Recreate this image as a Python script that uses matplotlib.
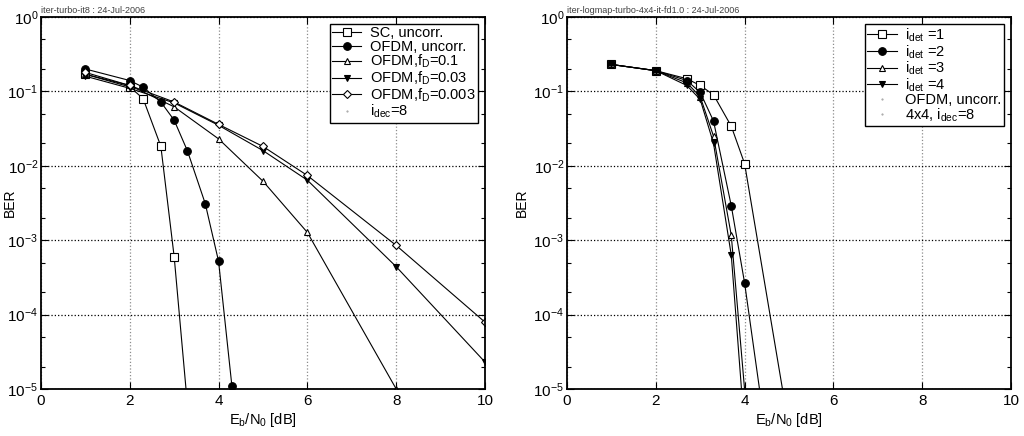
import numpy as np
import matplotlib.pyplot as plt

plt.rcParams['font.family'] = ['Liberation Sans', 'DejaVu Sans']
plt.rcParams['mathtext.default'] = 'regular'

# left panel: single antenna, i_dec = 8
sc_x = [1, 2, 2.3, 2.7, 3, 3.3]
sc_y = [0.17, 0.115, 0.08, 0.0183, 6.0e-4, 6.0e-6]
ofdm_x = [1, 2, 2.3, 2.7, 3, 3.3, 3.7, 4, 4.3]
ofdm_y = [0.20, 0.14, 0.114, 0.072, 0.041, 0.0158, 3.1e-3, 5.2e-4, 1.1e-5]
fd_x = [1, 2, 3, 4, 5, 6, 8, 10]
fd01_y = [0.17, 0.12, 0.062, 0.023, 6.2e-3, 1.27e-3, 1.0e-5, 1.0e-8]
fd003_y = [0.16, 0.11, 0.070, 0.035, 0.016, 6.4e-3, 4.4e-4, 2.3e-5]
fd0003_y = [0.18, 0.12, 0.072, 0.036, 0.0182, 7.4e-3, 8.5e-4, 7.9e-5]

# right panel: 4x4, iterations of detection
det_x = [1, 2, 2.7, 3, 3.3, 3.7, 4]
det1_y = [0.23, 0.19, 0.148, 0.12, 0.09, 0.034, 0.0107]
det1_tail = ([5.0], [3.0e-6])
det2_y = [0.23, 0.19, 0.14, 0.097, 0.040, 2.9e-3, 2.66e-4]
det2_tail = ([4.5], [2.0e-6])
det3_y = [0.23, 0.19, 0.13, 0.085, 0.025, 1.16e-3]
det3_tail = ([4.1], [2.0e-6])
det4_y = [0.23, 0.19, 0.12, 0.078, 0.020, 6.3e-4]
det4_tail = ([4.0], [2.8e-6])

fig = plt.figure(figsize=(10.24, 4.36), dpi=100)
ax1 = fig.add_axes([0.040, 0.108, 0.4336, 0.853])
ax2 = fig.add_axes([0.5537, 0.108, 0.4336, 0.853])

lk = dict(color='black', lw=0.8, clip_on=True)
open_ = dict(mfc='white', mec='black', mew=0.8)
fill_ = dict(mfc='black', mec='black', mew=0.8)

ax1.plot(sc_x, sc_y, marker='s', ms=5.5, label='SC, uncorr.', **open_, **lk)
ax1.plot(ofdm_x, ofdm_y, marker='o', ms=5.5, label='OFDM, uncorr.', **fill_, **lk)
ax1.plot(fd_x, fd01_y, marker='^', ms=5, label='OFDM,$f_D$=0.1', **open_, **lk)
ax1.plot(fd_x, fd003_y, marker='v', ms=5, label='OFDM,$f_D$=0.03', **fill_, **lk)
ax1.plot(fd_x, fd0003_y, marker='D', ms=4, label='OFDM,$f_D$=0.003', **open_, **lk)
ax1.plot([], [], ls='none', marker='.', ms=1, color='0.6', label='$i_{dec}$=8')

ax2.plot(det_x + det1_tail[0], det1_y + det1_tail[1], marker='s', ms=5.5,
         label='$i_{det}$ =1', **open_, **lk)
ax2.plot(det_x + det2_tail[0], det2_y + det2_tail[1], marker='o', ms=5.5,
         label='$i_{det}$ =2', **fill_, **lk)
ax2.plot(det_x[:-1] + det3_tail[0], det3_y + det3_tail[1], marker='^', ms=5,
         label='$i_{det}$ =3', **open_, **lk)
ax2.plot(det_x[:-1] + det4_tail[0], det4_y + det4_tail[1], marker='v', ms=5,
         label='$i_{det}$ =4', **fill_, **lk)
ax2.plot([], [], ls='none', marker='.', ms=1, color='0.6', label='OFDM, uncorr.')
ax2.plot([], [], ls='none', marker='.', ms=1, color='0.6', label='4x4, $i_{dec}$=8')

titles = ['iter-turbo-it8 : 24-Jul-2006',
          'iter-logmap-turbo-4x4-it-fd1.0 : 24-Jul-2006']

for ax, title in zip([ax1, ax2], titles):
    ax.set_yscale('log')
    ax.set_xlim(0, 10)
    ax.set_ylim(1e-5, 1)
    ax.set_xticks([0, 2, 4, 6, 8, 10])
    ax.set_yticks([1e0, 1e-1, 1e-2, 1e-3, 1e-4, 1e-5])
    ax.set_yticklabels(['$10^{0}$', '$10^{-1}$', '$10^{-2}$', '$10^{-3}$',
                        '$10^{-4}$', '$10^{-5}$'])
    ax.yaxis.set_minor_locator(plt.matplotlib.ticker.LogLocator(base=10, subs=[2, 5]))
    ax.yaxis.set_minor_formatter(plt.NullFormatter())
    ax.tick_params(which='both', direction='in', top=True, right=True, labelsize=11)
    ax.tick_params(axis='y', pad=2)
    ax.tick_params(which='major', length=5, width=0.8)
    ax.tick_params(which='minor', length=3, width=0.8)
    ax.grid(True, which='major', axis='x', color='0.55', ls=':', lw=0.9)
    ax.grid(True, which='major', axis='y', color='black', ls=':', lw=0.9)
    for s in ax.spines.values():
        s.set_linewidth(1.3)
    ax.set_xlabel('$E_b/N_0$ [dB]', fontsize=10.5, labelpad=2)
    ax.set_ylabel('BER', fontsize=10)
    ax.text(0.0, 1.005, title, transform=ax.transAxes, fontsize=6.5,
            ha='left', va='bottom', color='0.25')
    leg = ax.legend(loc='upper right', fontsize=10.5, frameon=True, fancybox=False,
                    edgecolor='black', framealpha=1, borderpad=0.15,
                    labelspacing=-0.05, handlelength=2.0, handletextpad=0.6,
                    borderaxespad=0.5)
    leg.get_frame().set_linewidth(1.0)

ax1.yaxis.set_label_coords(-0.055, 0.5)
ax2.yaxis.set_label_coords(-0.085, 0.5)

fig.savefig('out.png', dpi=100)
